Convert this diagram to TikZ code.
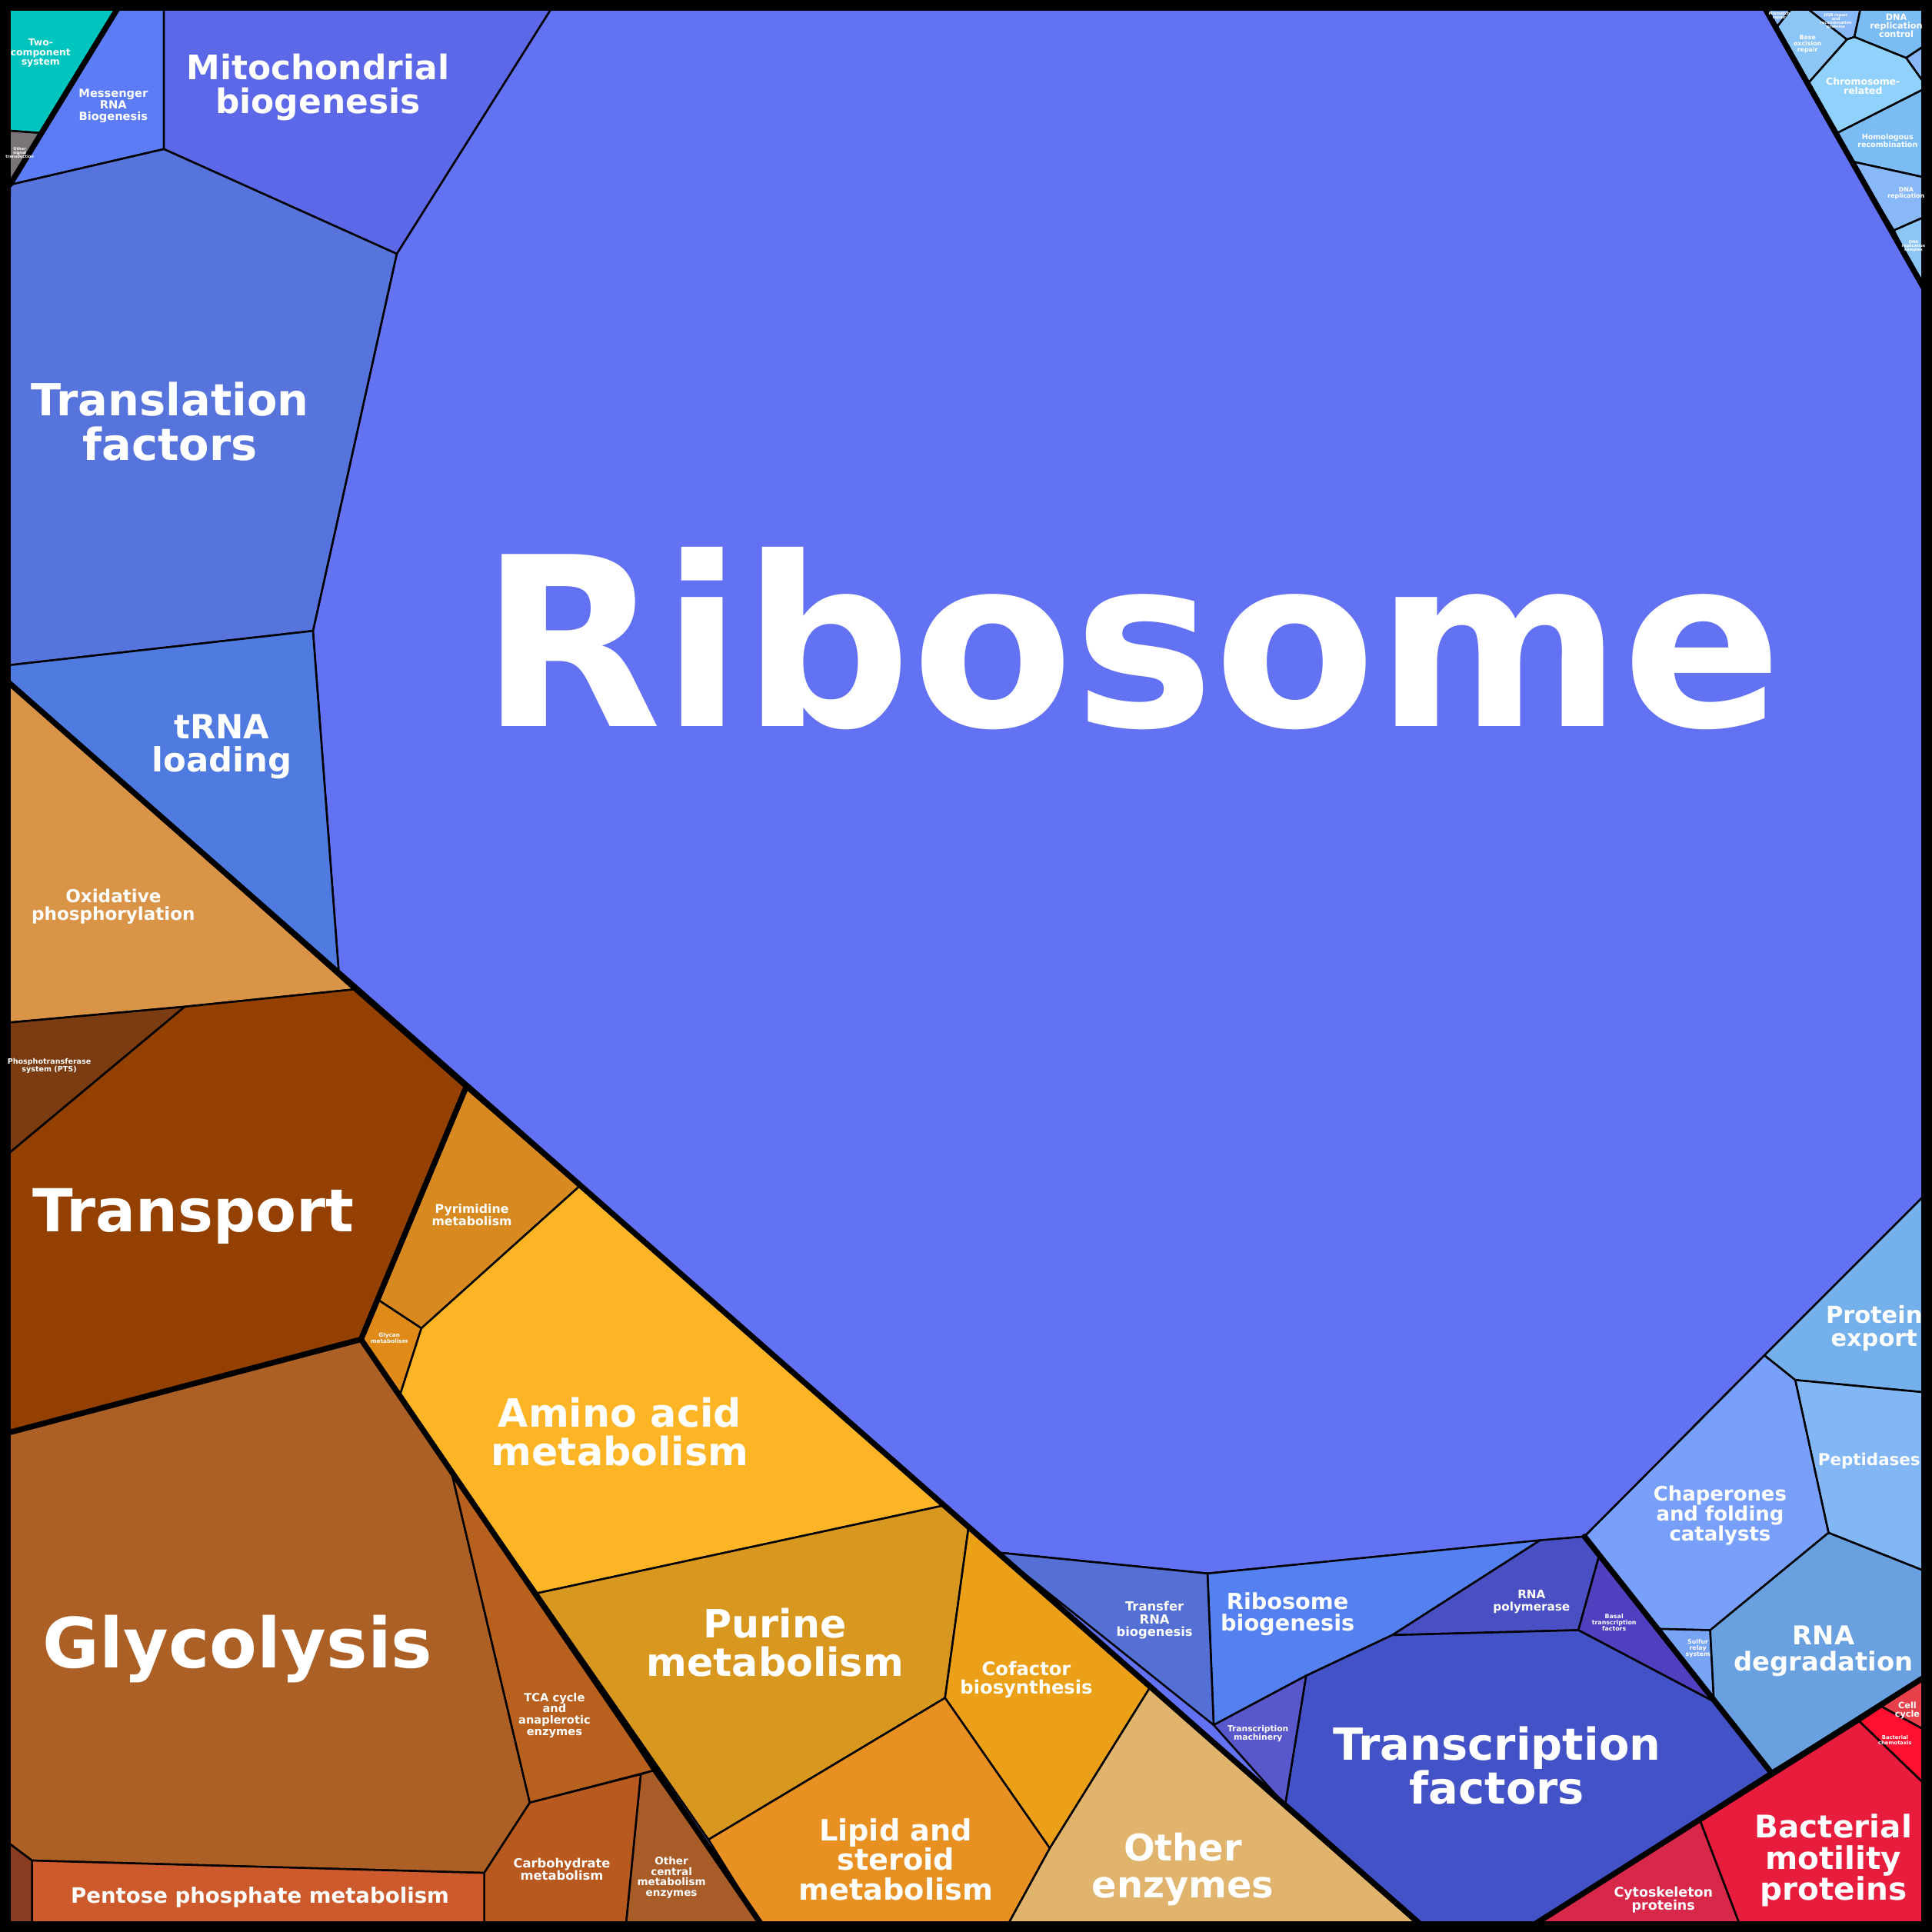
\documentclass[tikz,border=0pt]{standalone}
\usepackage{fontspec}
\setmainfont{DejaVu Sans}
\usepackage{tikz}
\definecolor{cribo}{HTML}{6272F2}
\definecolor{cmito}{HTML}{5C68E8}
\definecolor{cmrna}{HTML}{5C7CF5}
\definecolor{ctrans}{HTML}{5674DC}
\definecolor{ctrna}{HTML}{4F7ADF}
\definecolor{cteal}{HTML}{00C4BE}
\definecolor{cgrey}{HTML}{7A7478}
\definecolor{cdnaA}{HTML}{8CC6F6}
\definecolor{cdnaB}{HTML}{90D2FC}
\definecolor{cdnaC}{HTML}{7CBCF4}
\definecolor{cdnaD}{HTML}{88B8F8}
\definecolor{cexport}{HTML}{74B0EC}
\definecolor{cpept}{HTML}{82B6F4}
\definecolor{cchap}{HTML}{78A0FA}
\definecolor{csulf}{HTML}{78A4F4}
\definecolor{crnadeg}{HTML}{68A0E0}
\definecolor{cbasal}{HTML}{5040C0}
\definecolor{crnapol}{HTML}{4A4FC4}
\definecolor{ctf}{HTML}{4452C8}
\definecolor{ctmach}{HTML}{5858CC}
\definecolor{ctrnabio}{HTML}{5470D4}
\definecolor{cribobio}{HTML}{5580F0}
\definecolor{ccycle}{HTML}{E8404A}
\definecolor{cchemo}{HTML}{FF1030}
\definecolor{ccyto}{HTML}{D8284A}
\definecolor{cmotil}{HTML}{E81C3C}
\definecolor{coxphos}{HTML}{D99448}
\definecolor{cpts}{HTML}{7A3C10}
\definecolor{ctransp}{HTML}{934000}
\definecolor{cpyr}{HTML}{D88A20}
\definecolor{cglycan}{HTML}{E08A18}
\definecolor{camino}{HTML}{FDB526}
\definecolor{cglyco}{HTML}{AC6026}
\definecolor{ctca}{HTML}{B8601E}
\definecolor{cocm}{HTML}{A85C28}
\definecolor{ccarb}{HTML}{B85A20}
\definecolor{cpent}{HTML}{CC5A2C}
\definecolor{ctiny}{HTML}{8A3C20}
\definecolor{cpur}{HTML}{D89820}
\definecolor{ccof}{HTML}{EBA018}
\definecolor{clipid}{HTML}{E89022}
\definecolor{cother}{HTML}{E0B46C}
\newcommand\fsz[1]{\fontsize{#1}{#1}\selectfont\bfseries}

\begin{document}
\begin{tikzpicture}[x=0.1mm,y=-0.1mm,
  cell/.style={fill=#1,draw=black,line width=0.45pt,line join=round},
  border/.style={draw=black,line width=1.3pt,line cap=round},
  lbl/.style={text=white,align=center,inner sep=0pt}]
  \useasboundingbox (0,0) rectangle (1568,1568);
  \fill[cribo] (0,0) rectangle (1568,1568);

  % information processing
  \path[cell=cribo] (448,6) -- (1432,6) -- (1562,235) -- (1562,970) -- (1432,1100) -- (1286,1247) -- (980,1277) -- (810,1260) -- (275,790) -- (254,512) -- (322,206) -- cycle;
  \path[cell=cteal] (6,6) -- (96,6) -- (34,108) -- (6,106) -- cycle;
  \path[cell=cgrey] (6,106) -- (34,108) -- (8,150) -- cycle;
  \path[cell=cmrna] (96,6) -- (133,6) -- (133,121) -- (8,150) -- cycle;
  \path[cell=cmito] (133,6) -- (448,6) -- (322,206) -- (133,121) -- cycle;
  \path[cell=ctrans] (8,150) -- (133,121) -- (322,206) -- (254,512) -- (6,540) -- cycle;
  \path[cell=ctrna] (6,540) -- (254,512) -- (275,790) -- (6,553) -- cycle;
  % DNA corner
  \path[cell=cdnaD] (1432,7) -- (1454,7) -- (1442,22) -- cycle;
  \path[cell=cdnaA] (1442,22) -- (1454,7) -- (1467,7) -- (1499,32) -- (1468,67) -- cycle;
  \path[cell=cdnaD] (1467,7) -- (1510,7) -- (1505,30) -- (1499,32) -- cycle;
  \path[cell=cdnaC] (1510,7) -- (1562,7) -- (1562,37) -- (1547,47) -- (1505,30) -- cycle;
  \path[cell=cdnaD] (1547,47) -- (1562,37) -- (1562,68) -- cycle;
  \path[cell=cdnaB] (1468,67) -- (1499,32) -- (1505,30) -- (1547,47) -- (1562,68) -- (1562,72) -- (1491,108) -- cycle;
  \path[cell=cdnaC] (1491,108) -- (1562,72) -- (1562,144) -- (1503,131) -- cycle;
  \path[cell=cdnaD] (1503,131) -- (1562,144) -- (1562,176) -- (1537,187) -- cycle;
  \path[cell=cdnaA] (1537,187) -- (1562,176) -- (1562,235) -- cycle;
  % lower right
  \path[cell=cexport] (1562,970) -- (1432,1100) -- (1457,1120) -- (1562,1130) -- cycle;
  \path[cell=cpept] (1457,1120) -- (1562,1130) -- (1562,1275) -- (1484,1244) -- cycle;
  \path[cell=cchap] (1432,1100) -- (1457,1120) -- (1484,1244) -- (1388,1323) -- (1346,1322) -- (1286,1247) -- cycle;
  \path[cell=csulf] (1346,1322) -- (1388,1323) -- (1391,1381) -- cycle;
  \path[cell=crnadeg] (1484,1244) -- (1562,1275) -- (1562,1361) -- (1437,1438) -- (1391,1381) -- (1388,1323) -- cycle;
  \path[cell=cribobio] (980,1277) -- (1250,1250) -- (1130,1327) -- (1060,1360) -- (985,1400) -- cycle;
  \path[cell=crnapol] (1250,1250) -- (1286,1247) -- (1298,1262) -- (1281,1323) -- (1130,1327) -- cycle;
  \path[cell=cbasal] (1298,1262) -- (1281,1323) -- (1391,1381) -- cycle;
  \path[cell=ctf] (1060,1360) -- (1130,1327) -- (1281,1323) -- (1391,1381) -- (1437,1438) -- (1245,1562) -- (1153,1562) -- (1043,1465) -- cycle;
  \path[cell=ctmach] (985,1400) -- (1060,1360) -- (1043,1465) -- cycle;
  \path[cell=ctrnabio] (810,1260) -- (980,1277) -- (985,1400) -- cycle;
  % cellular processes
  \path[cell=ccycle] (1527,1385) -- (1562,1362) -- (1562,1404) -- cycle;
  \path[cell=cchemo] (1509,1397) -- (1527,1385) -- (1562,1404) -- (1562,1448) -- cycle;
  \path[cell=ccyto] (1245,1562) -- (1380,1478) -- (1412,1562) -- cycle;
  \path[cell=cmotil] (1380,1478) -- (1509,1397) -- (1562,1448) -- (1562,1562) -- (1412,1562) -- cycle;
  % metabolism
  \path[cell=coxphos] (6,553) -- (287,803) -- (150,817) -- (6,830) -- cycle;
  \path[cell=cpts] (6,830) -- (150,817) -- (6,937) -- cycle;
  \path[cell=ctransp] (150,817) -- (287,803) -- (378,883) -- (293,1087) -- (6,1163) -- (6,937) -- cycle;
  \path[cell=cpyr] (378,883) -- (470,963) -- (342,1078) -- (307,1055) -- cycle;
  \path[cell=cglycan] (307,1055) -- (342,1078) -- (325,1131) -- (293,1087) -- cycle;
  \path[cell=camino] (470,963) -- (765,1222) -- (436,1293) -- (366,1193) -- (325,1131) -- (342,1078) -- cycle;
  \path[cell=cglyco] (6,1163) -- (293,1087) -- (366,1193) -- (430,1463) -- (393,1520) -- (26,1510) -- (6,1495) -- cycle;
  \path[cell=ctca] (366,1193) -- (436,1293) -- (530,1437) -- (430,1463) -- cycle;
  \path[cell=cocm] (520,1440) -- (530,1437) -- (618,1562) -- (508,1562) -- cycle;
  \path[cell=ccarb] (430,1463) -- (520,1440) -- (508,1562) -- (393,1562) -- (393,1520) -- cycle;
  \path[cell=cpent] (26,1510) -- (393,1520) -- (393,1562) -- (26,1562) -- cycle;
  \path[cell=ctiny] (6,1495) -- (26,1510) -- (26,1562) -- (6,1562) -- cycle;
  \path[cell=cpur] (436,1293) -- (765,1222) -- (786,1240) -- (767,1378) -- (575,1493) -- cycle;
  \path[cell=ccof] (786,1240) -- (933,1370) -- (852,1500) -- (767,1378) -- cycle;
  \path[cell=clipid] (575,1493) -- (767,1378) -- (852,1500) -- (818,1562) -- (618,1562) -- cycle;
  \path[cell=cother] (933,1370) -- (1153,1562) -- (818,1562) -- (852,1500) -- cycle;

  % thick borders
  \draw[border] (6,553) -- (1153,1562);
  \draw[border] (96,6) -- (8,150);
  \draw[border] (1432,6) -- (1562,235);
  \draw[border] (1245,1562) -- (1562,1361);
  \draw[border] (293,1087) -- (618,1562);
  \draw[border] (6,1163) -- (293,1087) -- (378,883);
  \draw[border] (1286,1247) -- (1437,1438);
  \draw[border] (1153,1562) -- (1043,1465);
  \draw[black,line width=1.7mm] (0,0) rectangle (1568,1568);

  % labels
  \node[lbl,font=\fsz{54.5}] (ribo) at (918,518) {Ribosome};
  \node[lbl,font=\fsz{10.2}] (transl) at (138,342) {Translation\\factors};
  \node[lbl,font=\fsz{7.8}] (mito) at (258,71) {Mitochondrial\\biogenesis};
  \node[lbl,font=\fsz{2.6}] (mrna) at (92,86) {Messenger\\RNA\\Biogenesis};
  \node[lbl,font=\fsz{2.2}] (twocomp) at (33,43) {Two-\\component\\system};
  \node[lbl,font=\fsz{7.7}] (trna) at (180,606) {tRNA\\loading};
  \node[lbl,font=\fsz{4.1}] (oxphos) at (92,736) {Oxidative\\phosphorylation};
  \node[lbl,font=\fsz{1.7}] (pts) at (40,865) {Phosphotransferase\\system (PTS)};
  \node[lbl,font=\fsz{13.7}] (transp) at (157,987) {Transport};
  \node[lbl,font=\fsz{2.8}] (pyr) at (383,986) {Pyrimidine\\metabolism};
  \node[lbl,font=\fsz{1.3}] (glycan) at (316,1086) {Glycan\\metabolism};
  \node[lbl,font=\fsz{9}] (amino) at (503,1162) {Amino acid\\metabolism};
  \node[lbl,font=\fsz{16}] (glyco) at (193,1338) {Glycolysis};
  \node[lbl,font=\fsz{2.6}] (tca) at (450,1392) {TCA cycle\\and\\anaplerotic\\enzymes};
  \node[lbl,font=\fsz{2.9}] (carb) at (456,1517) {Carbohydrate\\metabolism};
  \node[lbl,font=\fsz{2.4}] (ocm) at (545,1524) {Other\\central\\metabolism\\enzymes};
  \node[lbl,font=\fsz{4.9}] (pent) at (211,1540) {Pentose phosphate metabolism};
  \node[lbl,font=\fsz{9}] (pur) at (629,1333) {Purine\\metabolism};
  \node[lbl,font=\fsz{4.3}] (cof) at (833,1363) {Cofactor\\biosynthesis};
  \node[lbl,font=\fsz{6.8}] (lipid) at (727,1509) {Lipid and\\steroid\\metabolism};
  \node[lbl,font=\fsz{8.5}] (other) at (960,1517) {Other\\enzymes};
  \node[lbl,font=\fsz{2.9}] (trnabio) at (937,1315) {Transfer\\RNA\\biogenesis};
  \node[lbl,font=\fsz{5.1}] (ribobio) at (1045,1310) {Ribosome\\biogenesis};
  \node[lbl,font=\fsz{1.9}] (tmach) at (1021,1407) {Transcription\\machinery};
  \node[lbl,font=\fsz{2.7}] (rnapol) at (1243,1300) {RNA\\polymerase};
  \node[lbl,font=\fsz{1.4}] (basal) at (1310,1317) {Basal\\transcription\\factors};
  \node[lbl,font=\fsz{10.2}] (tf) at (1215,1433) {Transcription\\factors};
  \node[lbl,font=\fsz{1.4}] (sulf) at (1378,1338) {Sulfur\\relay\\system};
  \node[lbl,font=\fsz{6}] (rnadeg) at (1480,1340) {RNA\\degradation};
  \node[lbl,font=\fsz{4.6}] (chap) at (1396,1230) {Chaperones\\and folding\\catalysts};
  \node[lbl,font=\fsz{3.8}] (pept) at (1517,1186) {Peptidases};
  \node[lbl,font=\fsz{5.4}] (export) at (1521,1078) {Protein\\export};
  \node[lbl,font=\fsz{2}] (cycle) at (1548,1388) {Cell\\cycle};
  \node[lbl,font=\fsz{1.2}] (chemo) at (1538,1412) {Bacterial\\chemotaxis};
  \node[lbl,font=\fsz{3.1}] (cyto) at (1350,1542) {Cytoskeleton\\proteins};
  \node[lbl,font=\fsz{7.2}] (motil) at (1488,1510) {Bacterial\\motility\\proteins};
  \node[lbl,font=\fsz{1.4}] (bexc) at (1467,36) {Base\\excision\\repair};
  \node[lbl,font=\fsz{2.2}] (chrom) at (1512,70) {Chromosome-\\related};
  \node[lbl,font=\fsz{1.7}] (homrec) at (1532,114) {Homologous\\recombination};
  \node[lbl,font=\fsz{2}] (drc) at (1539,21) {DNA\\replication\\control};
  \node[lbl,font=\fsz{1.4}] (drep) at (1547,157) {DNA\\replication};
  \node[lbl,font=\fsz{0.9}] (dsb) at (1490,17) {DSB repair\\and\\recombination\\proteins};
  \node[lbl,font=\fsz{0.9}] (mmr) at (1444,13) {Mismatch\\repair};
  \node[lbl,font=\fsz{0.9}] (drcx) at (1553,200) {DNA\\replication\\complex};
  \node[lbl,font=\fsz{0.9}] (grey) at (16,124) {Other\\signal\\transduction};
\end{tikzpicture}
\end{document}
